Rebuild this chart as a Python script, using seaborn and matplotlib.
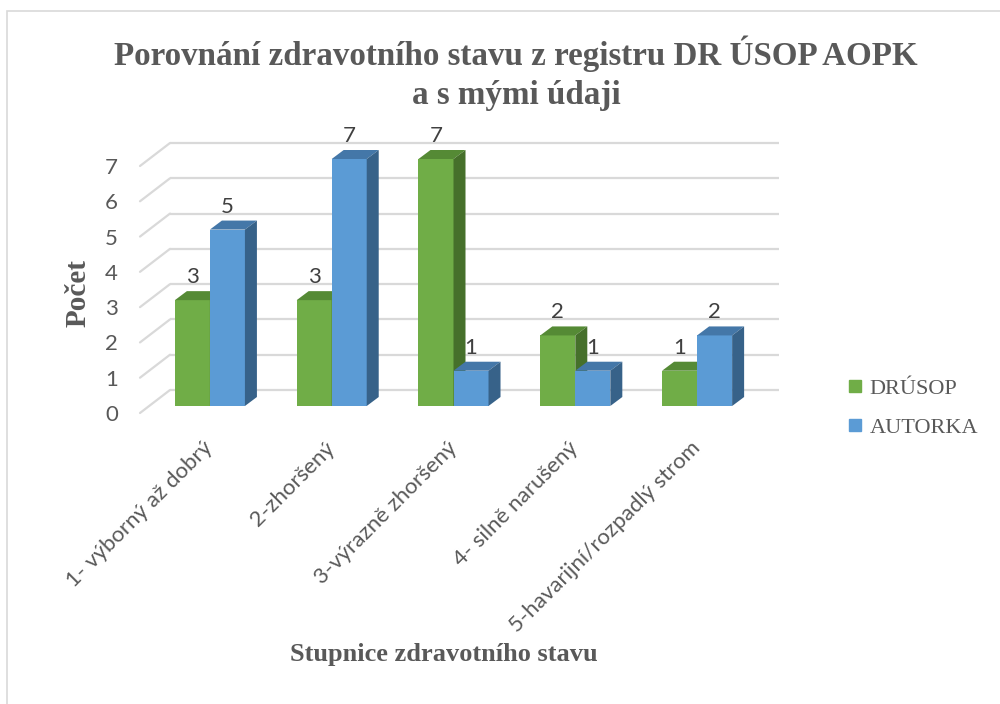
import numpy as np
import pandas as pd
import matplotlib
matplotlib.use("Agg")
import matplotlib.pyplot as plt
import matplotlib.transforms as mtransforms
from matplotlib.patches import Polygon, Rectangle
from matplotlib.lines import Line2D
import seaborn as sns

# data
categories = ["1- výborný až dobrý", "2-zhoršený", "3-výrazně zhoršený",
              "4- silně narušený", "5-havarijní/rozpadlý strom"]
series = ["DRÚSOP", "AUTORKA"]
drusop = [3, 3, 7, 2, 1]
autorka = [5, 7, 1, 1, 2]
yticks = [0, 1, 2, 3, 4, 5, 6, 7]

df = pd.DataFrame({
    "stupen": categories * 2,
    "serie": [series[0]] * len(categories) + [series[1]] * len(categories),
    "pocet": drusop + autorka,
})

front_col = {"DRÚSOP": "#70AD47", "AUTORKA": "#5B9BD5"}
top_col = {"DRÚSOP": "#558A35", "AUTORKA": "#4477A8"}
side_col = {"DRÚSOP": "#46702B", "AUTORKA": "#376289"}
txt = "#595959"
grid_col = "#D9D9D9"
serif = ["Liberation Serif", "DejaVu Serif"]

sns.set_theme(style="white")
plt.rcParams["font.family"] = ["Lato", "DejaVu Sans"]

W, H = 1000, 704
fig = plt.figure(figsize=(W / 100, H / 100), dpi=100)


def fx(px):
    return px / W


def fy(py):
    return 1 - py / H


# front plane of the 3d box
ax = fig.add_axes([fx(140), fy(413), (749 - 140) / W, (413 - 166) / H])
sns.barplot(data=df, x="stupen", y="pocet", hue="serie", order=categories,
            hue_order=series, palette=front_col, saturation=1, width=0.575,
            linewidth=0, legend=False, ax=ax)
ax.set_xlim(-0.5, 4.5)
ax.set_ylim(0, 7)
for s in ax.spines.values():
    s.set_visible(False)
ax.grid(False)

ident = mtransforms.IdentityTransform()
bar_off = np.array([9.0, 7.0])    # bars sit a bit inside the box
wall_off = np.array([30.0, 23.0])  # back wall
depth = np.array([12.0, 9.0])      # bar depth

# back wall + side wall gridlines
wall_tr = ax.transData + mtransforms.ScaledTranslation(wall_off[0] / 100, wall_off[1] / 100, fig.dpi_scale_trans)
ax.hlines(yticks, -0.5, 4.5, colors=grid_col, lw=1.6, transform=wall_tr, clip_on=False, zorder=0)
for y in yticks:
    p0 = ax.transData.transform((-0.5, y))
    p1 = p0 + wall_off
    ax.add_line(Line2D([p0[0], p1[0]], [p0[1], p1[1]], color=grid_col, lw=1.6,
                       transform=ident, clip_on=False, zorder=0))

bar_tr = ax.transData + mtransforms.ScaledTranslation(bar_off[0] / 100, bar_off[1] / 100, fig.dpi_scale_trans)
for k, (name, cont) in enumerate(zip(series, ax.containers)):
    z = 2 + k
    for p in cont.patches:
        p.set_transform(bar_tr)
        p.set_clip_on(False)
        p.set_zorder(z)
        x0, yb = ax.transData.transform((p.get_x(), 0)) + bar_off
        x1, yt = ax.transData.transform((p.get_x() + p.get_width(), p.get_height())) + bar_off
        top = [(x0, yt), (x1, yt), (x1 + depth[0], yt + depth[1]), (x0 + depth[0], yt + depth[1])]
        side = [(x1, yb), (x1, yt), (x1 + depth[0], yt + depth[1]), (x1 + depth[0], yb + depth[1])]
        ax.add_patch(Polygon(top, closed=True, fc=top_col[name], ec="none",
                             transform=ident, clip_on=False, zorder=z + 0.1))
        ax.add_patch(Polygon(side, closed=True, fc=side_col[name], ec="none",
                             transform=ident, clip_on=False, zorder=z + 0.1))
        ax.annotate(f"{p.get_height():g}", (p.get_x() + p.get_width() / 2, p.get_height()),
                    xytext=(bar_off[0] * 0.72, 20 * 0.72), textcoords="offset points",
                    ha="center", va="bottom", fontsize=16, color="#404040",
                    annotation_clip=False, zorder=5)

# ticks
unit_px = ax.transData.transform((1, 0))[0] - ax.transData.transform((0, 0))[0]
ax.set_xticks(np.arange(len(categories)) + bar_off[0] / unit_px)
ax.set_xticklabels(categories, rotation=45, ha="right", va="center", rotation_mode="anchor")
ax.set_yticks(yticks)
ax.tick_params(axis="x", length=0, pad=23, labelsize=16, labelcolor=txt)
ax.tick_params(axis="y", length=0, pad=16, labelsize=16, labelcolor=txt)

ax.set_xlabel("Stupnice zdravotního stavu", fontsize=19, fontweight="bold",
              family=serif, color=txt)
ax.xaxis.set_label_coords((444 - 140) / 609, (413 - 643) / 247)
ax.set_ylabel("Počet", fontsize=21, fontweight="bold", family=serif, color=txt)
ax.yaxis.set_label_coords((92 - 140) / 609, (413 - 293) / 247)

fig.text(fx(516), fy(36), "Porovnání zdravotního stavu z registru DR ÚSOP AOPK\na s mými údaji",
         ha="center", va="top", fontsize=23.8, fontweight="bold", family=serif,
         color=txt, linespacing=1.3)

handles = [Line2D([], [], marker="s", ls="", markersize=9, color=front_col[s]) for s in series]
fig.legend(handles, series, loc="center left", bbox_to_anchor=(fx(826), fy(408)),
           frameon=False, prop={"family": serif, "size": 16}, labelcolor=txt,
           labelspacing=0.85, handlelength=0.8, handletextpad=0.25)

fig.add_artist(Rectangle((fx(7), fy(760)), fx(1010) - fx(7), fy(11) - fy(760),
                         transform=fig.transFigure, fill=False, ec=grid_col, lw=1.2))

fig.savefig("out.png", dpi=100)
